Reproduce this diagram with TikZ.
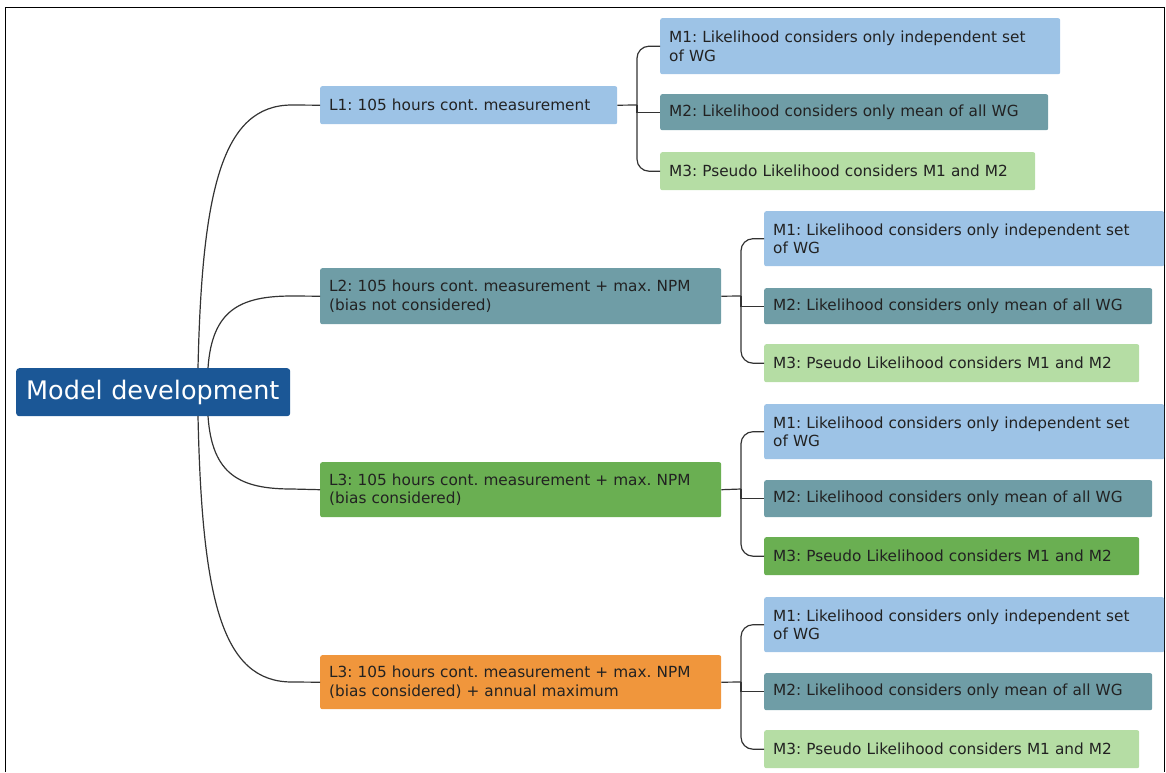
\documentclass[tikz,border=0pt]{standalone}
\usepackage{fontspec}
\setmainfont{DejaVu Sans}
\frenchspacing
\definecolor{cLB}{HTML}{9DC3E6}
\definecolor{cTE}{HTML}{6F9DA6}
\definecolor{cLG}{HTML}{B5DDA4}
\definecolor{cGR}{HTML}{6AAF52}
\definecolor{cOR}{HTML}{F0963C}
\definecolor{cDB}{HTML}{1B5796}
\definecolor{cTX}{HTML}{222222}
\definecolor{cLN}{HTML}{333333}
\begin{document}
\begin{tikzpicture}[x=1pt,y=-1pt,
  box/.style={anchor=north west, inner xsep=9pt, inner ysep=0pt, rounded corners=2pt,
    align=left, text=cTX, font=\fontsize{15.3}{18.5}\selectfont},
  link/.style={draw=cLN, line width=1.2pt},
  tree/.style={draw=cLN, line width=1.2pt, rounded corners=12pt}]
\useasboundingbox (0,0) rectangle (1166,772);
\draw[line width=1pt, black] (5,772) -- (5,7) -- (1164,7) -- (1164,772);

% root
\node[anchor=north west, fill=cDB, rounded corners=3pt, minimum width=274pt, minimum height=48pt,
  inner xsep=10pt, inner ysep=0pt, text width=254pt, align=left, text=white, font=\fontsize{25.5}{28}\selectfont] (root) at (16,368) {Model development};

% level nodes
\node[box, fill=cLB, minimum width=297pt, minimum height=38pt, text width=279pt] (L1) at (320,86) {L1: 105 hours cont. measurement};
\node[box, fill=cTE, minimum width=401pt, minimum height=56pt, text width=383pt] (L2) at (320,268) {L2: 105 hours cont. measurement + max. NPM\\(bias not considered)};
\node[box, fill=cGR, minimum width=401pt, minimum height=55pt, text width=383pt] (L3) at (320,462) {L3: 105 hours cont. measurement + max. NPM\\(bias considered)};
\node[box, fill=cOR, minimum width=401pt, minimum height=54pt, text width=383pt] (L4) at (320,655) {L3: 105 hours cont. measurement + max. NPM\\(bias considered) + annual maximum};

% children of L1
\node[box, fill=cLB, minimum width=400pt, minimum height=56pt, text width=382pt] (a1) at (660,18) {M1: Likelihood considers only independent set\\of WG};
\node[box, fill=cTE, minimum width=388pt, minimum height=36pt, text width=370pt] (a2) at (660,94) {M2: Likelihood considers only mean of all WG};
\node[box, fill=cLG, minimum width=375pt, minimum height=38pt, text width=357pt] (a3) at (660,152) {M3: Pseudo Likelihood considers M1 and M2};

% children of L2
\node[box, fill=cLB, minimum width=400pt, minimum height=55pt, text width=382pt] (b1) at (764,211) {M1: Likelihood considers only independent set\\of WG};
\node[box, fill=cTE, minimum width=388pt, minimum height=36pt, text width=370pt] (b2) at (764,288) {M2: Likelihood considers only mean of all WG};
\node[box, fill=cLG, minimum width=375pt, minimum height=38pt, text width=357pt] (b3) at (764,344) {M3: Pseudo Likelihood considers M1 and M2};

% children of L3
\node[box, fill=cLB, minimum width=400pt, minimum height=55pt, text width=382pt] (c1) at (764,404) {M1: Likelihood considers only independent set\\of WG};
\node[box, fill=cTE, minimum width=388pt, minimum height=37pt, text width=370pt] (c2) at (764,480) {M2: Likelihood considers only mean of all WG};
\node[box, fill=cGR, minimum width=375pt, minimum height=38pt, text width=357pt] (c3) at (764,537) {M3: Pseudo Likelihood considers M1 and M2};

% children of L4
\node[box, fill=cLB, minimum width=400pt, minimum height=55pt, text width=382pt] (d1) at (764,597) {M1: Likelihood considers only independent set\\of WG};
\node[box, fill=cTE, minimum width=388pt, minimum height=37pt, text width=370pt] (d2) at (764,673) {M2: Likelihood considers only mean of all WG};
\node[box, fill=cLG, minimum width=375pt, minimum height=38pt, text width=357pt] (d3) at (764,730) {M3: Pseudo Likelihood considers M1 and M2};

% root connectors
\coordinate (r1) at (198,368);
\coordinate (r2) at (208,368);
\coordinate (r3) at (208,416);
\coordinate (r4) at (198,416);
\coordinate (e1) at (292,105);
\coordinate (e2) at (292,296);
\coordinate (e3) at (292,489);
\coordinate (e4) at (292,682);
\draw[link] (r1) .. controls (202,190) and (222,105) .. (e1) -- (L1.west);
\draw[link] (r2) .. controls (212,310) and (240,296) .. (e2) -- (L2.west);
\draw[link] (r3) .. controls (212,475) and (240,489) .. (e3) -- (L3.west);
\draw[link] (r4) .. controls (202,600) and (222,682) .. (e4) -- (L4.west);

% child trees
\coordinate (j1) at (637,105);
\coordinate (j2) at (741,296);
\coordinate (j3) at (741,489);
\coordinate (j4) at (741,682);
\draw[link] (L1.east) -- (j1);
\draw[link] (L2.east) -- (j2);
\draw[link] (L3.east) -- (j3);
\draw[link] (L4.east) -- (j4);
\draw[tree] (j1) |- (a1.west);
\draw[link] (j1) |- (a2.west);
\draw[tree] (j1) |- (a3.west);
\draw[tree] (j2) |- (b1.west);
\draw[link] (j2) |- (b2.west);
\draw[tree] (j2) |- (b3.west);
\draw[tree] (j3) |- (c1.west);
\draw[link] (j3) |- (c2.west);
\draw[tree] (j3) |- (c3.west);
\draw[tree] (j4) |- (d1.west);
\draw[link] (j4) |- (d2.west);
\draw[tree] (j4) |- (d3.west);
\end{tikzpicture}
\end{document}
